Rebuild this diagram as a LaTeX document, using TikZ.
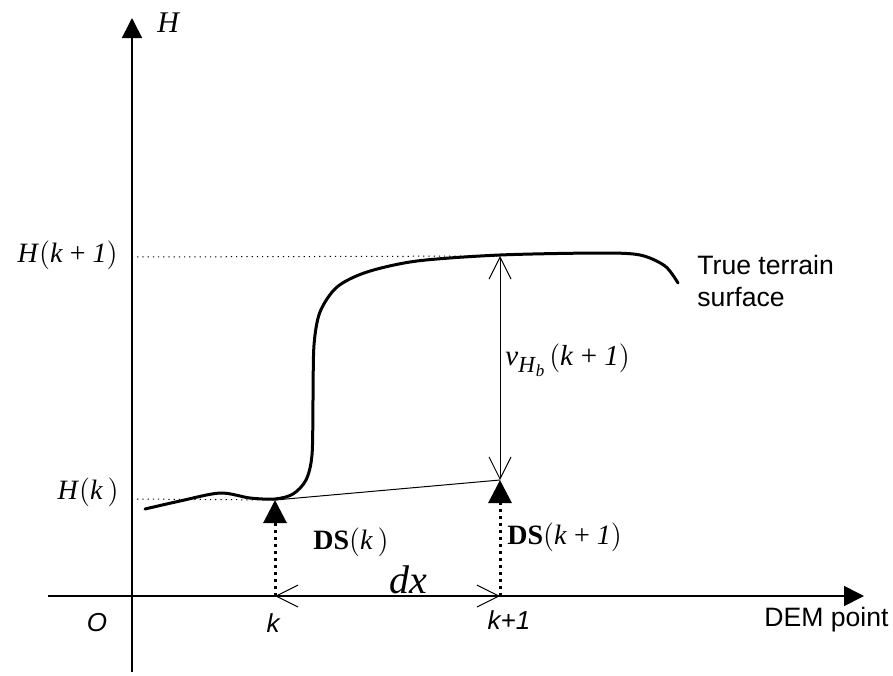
\documentclass[tikz,border=0pt]{standalone}
\usepackage{fontspec}
\setmainfont{Liberation Serif}
\setsansfont{Liberation Sans}
\usetikzlibrary{arrows.meta}
\newcommand{\myL}{\ensuremath{\Big(}}
\newcommand{\myR}{\ensuremath{\Big)}}
\begin{document}
\begin{tikzpicture}[x=0.5pt,y=-0.5pt,
  axisline/.style={line width=0.8pt,-{Triangle[length=10pt,width=10pt]}},
  surf/.style={line width=1.5pt,line cap=round,line join=round},
  thinline/.style={line width=0.5pt},
  barb/.style={line width=0.5pt,{Straight Barb[length=11pt,width=11pt]}-{Straight Barb[length=11pt,width=11pt]}},
  dotv/.style={line width=1.5pt,dash pattern=on 1.5pt off 2pt,-{Triangle[length=11.5pt,width=11.5pt]}},
  doth/.style={line width=0.5pt,dash pattern=on 0.6pt off 2pt},
  mlabel/.style={inner sep=0pt,font=\fontsize{14}{16}\selectfont},
  slabel/.style={inner sep=0pt,font=\sffamily\fontsize{13.3}{16}\selectfont},
  ilabel/.style={inner sep=0pt,font=\sffamily\itshape\fontsize{13}{14}\selectfont},
  dslabel/.style={inner sep=0pt,font=\fontsize{14}{16}\selectfont}
]
\useasboundingbox (0,0) rectangle (893,675);
% coordinates
\coordinate (ybot) at (132,672);
\coordinate (ytop) at (132,18);
\coordinate (xleft) at (48,596);
\coordinate (xright) at (864,596);
\coordinate (kx) at (275,596);
\coordinate (k1x) at (500,596);
\coordinate (kp) at (275,500);
\coordinate (k1p) at (500,480);
\coordinate (k1t) at (500,256);
\coordinate (hk1) at (132,257);
\coordinate (hk) at (132,499);
% axes
\draw[axisline] (ybot) -- (ytop);
\draw[axisline] (xleft) -- (xright);
% dotted guides
\draw[doth] (hk1) -- (k1t);
\draw[doth] (hk) -- (kp);
% true surface
\draw[surf] plot[smooth,tension=0.5] coordinates {(145,509) (180,501) (220,493) (250,498) (275,499) (293,494) (306,480) (312,455) (313,400) (314,345) (320,312) (337,287) (367,272) (417,261) (500,255) (600,253) (640,255) (665,266) (678,283)};
% DEM surface
\draw[thinline] (kp) -- (k1p);
% vertical error
\draw[barb] (k1t) -- (k1p);
% dx
\draw[barb] (kx) -- (k1x);
% DS arrows
\draw[dotv] (kx) -- (kp);
\draw[dotv] (k1x) -- (k1p);
% labels
\node[inner sep=0pt,font=\fontsize{15}{17}\selectfont] (hlab) at (169,23) {\textit{H}};
\node[mlabel,anchor=east] (hk1lab) at (118,255) {\textit{H}\myL\textit{k} + \textit{1}\myR};
\node[mlabel,anchor=east] (hklab) at (119,492) {\textit{H}\myL\textit{k}\,\myR};
\node[ilabel] (olab) at (97,623) {O};
\node[ilabel] (klab) at (273,623) {k};
\node[ilabel] (k1lab) at (509,620) {k+1};
\node[slabel,anchor=east] (demlab) at (889,620) {DEM point};
\node[slabel,anchor=west,align=left] (tlab) at (697,281) {True terrain\\surface};
\node[dslabel,anchor=west] (dsk) at (313,542) {\textbf{DS}\myL\textit{k}\,\myR};
\node[dslabel,anchor=west] (dsk1) at (507,537) {\textbf{DS}\myL\textit{k} + \textit{1}\myR};
\node[inner sep=0pt,font=\fontsize{20}{22}\selectfont] (dxlab) at (408,580) {\textit{dx}};
\node[dslabel,anchor=west,font=\fontsize{14.5}{16}\selectfont] (vlab) at (505,360) {\textit{v}\raisebox{-0.5ex}{\fontsize{11.5}{12}\selectfont\textit{H}\raisebox{-0.4ex}{\fontsize{8.5}{9}\selectfont\textit{b}}}\,\myL\textit{k} + \textit{1}\myR};
\end{tikzpicture}
\end{document}
